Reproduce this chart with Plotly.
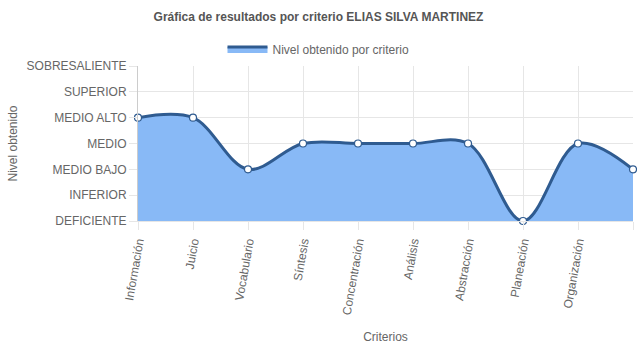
import plotly.graph_objects as go

categories = ["Información", "Juicio", "Vocabulario", "Síntesis", "Concentración",
              "Análisis", "Abstracción", "Planeación", "Organización", "Atención"]
levels = ["DEFICIENTE", "INFERIOR", "MEDIO BAJO", "MEDIO", "MEDIO ALTO", "SUPERIOR", "SOBRESALIENTE"]
values = [4, 4, 2, 3, 3, 3, 3, 0, 3, 2]

title_text = "Gráfica de resultados por criterio ELIAS SILVA MARTINEZ"
series_name = "Nivel obtenido por criterio"

line_color = "#2f5b90"
fill_color = "#88b9f6"
grid_color = "#e6e6e6"
text_color = "#666666"

fig = go.Figure()
fig.add_trace(go.Scatter(
    x=list(range(len(categories))), y=values,
    mode="lines+markers",
    line=dict(color=line_color, width=3, shape="spline", smoothing=1.0),
    fill="tozeroy", fillcolor=fill_color,
    marker=dict(color="white", size=7, line=dict(color=line_color, width=1.2)),
    showlegend=False, cliponaxis=False, hoverinfo="skip",
))
fig.add_trace(go.Scatter(
    x=[None], y=[None], name=series_name, mode="lines",
    fill="toself", fillcolor=fill_color,
    line=dict(color=line_color, width=3),
    showlegend=True,
))

fig.update_layout(
    width=637, height=348,
    margin=dict(l=138, r=4, t=66, b=127),
    paper_bgcolor="white", plot_bgcolor="white",
    font=dict(family="Liberation Sans, Arial, sans-serif", size=12, color=text_color),
    title=dict(text="<b>" + title_text + "</b>", x=0.5, xref="container", xanchor="center",
               y=1 - 17 / 348, yref="container", yanchor="middle",
               font=dict(size=12, color="#555555")),
    legend=dict(orientation="h", xref="container", yref="container", x=0.5, xanchor="center",
                y=1 - 49 / 348, yanchor="middle", font=dict(size=12, color=text_color),
                itemwidth=40),
    showlegend=True,
)
fig.update_xaxes(
    range=[0, len(categories) - 1], tickmode="array",
    tickvals=list(range(len(categories))), ticktext=categories,
    tickangle=-80, showgrid=True, gridcolor=grid_color, zeroline=False,
    ticks="outside", ticklen=8, tickcolor=grid_color,
    showline=True, linecolor=grid_color,
    tickfont=dict(size=12, color=text_color),
    title=dict(text="Criterios", font=dict(size=12, color=text_color), standoff=17),
    automargin=False,
)
fig.update_yaxes(
    range=[0, 6], tickmode="array", tickvals=list(range(len(levels))), ticktext=levels,
    showgrid=True, gridcolor=grid_color, zeroline=False,
    ticks="outside", ticklen=8, tickcolor=grid_color,
    showline=True, linecolor="#cccccc",
    tickfont=dict(size=12, color=text_color),
    title=dict(text="Nivel obtenido", font=dict(size=12, color=text_color), standoff=6),
    automargin=False,
)

fig.write_html("out.html")
